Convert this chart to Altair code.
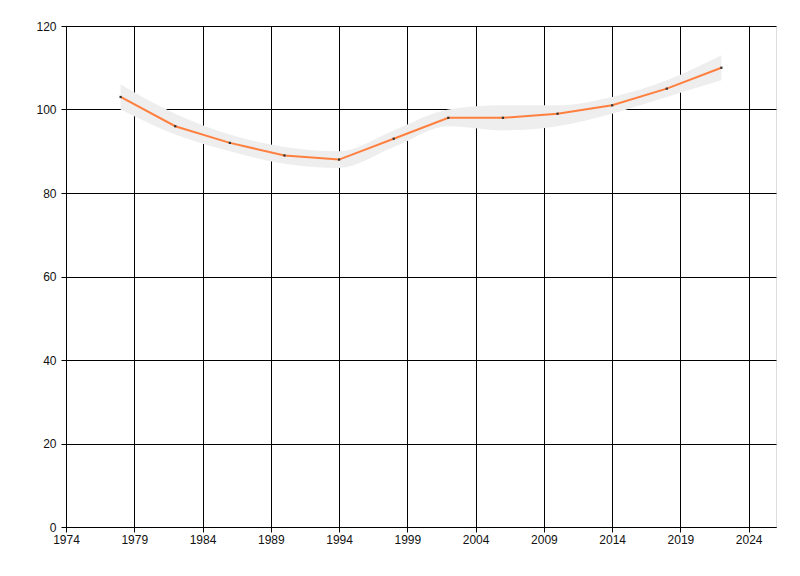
import altair as alt
import pandas as pd

years = [1978, 1982, 1986, 1990, 1994, 1998, 2002, 2006, 2010, 2014, 2018, 2022]
values = [103, 96, 92, 89, 88, 93, 98, 98, 99, 101, 105, 110]
lower = [100, 94, 90, 87, 86, 91, 96, 95, 96, 99, 103, 107]
upper = [106, 99, 94, 91, 90, 95, 100, 101, 101, 103, 107, 113]
x_ticks = [1974, 1979, 1984, 1989, 1994, 1999, 2004, 2009, 2014, 2019, 2024]
y_ticks = [0, 20, 40, 60, 80, 100, 120]

df = pd.DataFrame({"year": years, "value": values, "lo": lower, "hi": upper})

xs = alt.Scale(domain=[1974, 2026], nice=False, zero=False)
ys = alt.Scale(domain=[0, 120], nice=False)

xaxis = alt.Axis(values=x_ticks, format="d", title=None, grid=True, gridColor="black",
                 gridOpacity=1, domainColor="black", tickColor="black", tickSize=5,
                 labelFont="Liberation Sans", labelFontSize=12, labelColor="#111",
                 labelPadding=2, labelFlush=False, labelOverlap=False)
yaxis = alt.Axis(values=y_ticks, title=None, grid=True, gridColor="black",
                 gridOpacity=1, domainColor="black", tickColor="black", tickSize=5,
                 labelFont="Liberation Sans", labelFontSize=12, labelColor="#111",
                 labelPadding=5)

base = alt.Chart(df)

band = base.mark_area(color="#EEEEEE", opacity=1, interpolate="monotone").encode(
    x=alt.X("year:Q", scale=xs, axis=xaxis),
    y=alt.Y("lo:Q", scale=ys, axis=yaxis),
    y2="hi:Q",
)

line = base.mark_line(color="#FF7F3F", strokeWidth=2).encode(
    x=alt.X("year:Q", scale=xs),
    y=alt.Y("value:Q", scale=ys),
)

pts = base.mark_square(color="#333333", size=5, opacity=1).encode(
    x=alt.X("year:Q", scale=xs),
    y=alt.Y("value:Q", scale=ys),
)

chart = (band + line + pts).properties(
    width=710, height=501,
    autosize=alt.AutoSizeParams(type="none"),
    padding={"left": 58, "top": 18, "right": 10, "bottom": 30},
).configure_view(stroke=None).configure(background="white")

chart.save("out.html", embed_options={"renderer": "svg", "actions": False})
